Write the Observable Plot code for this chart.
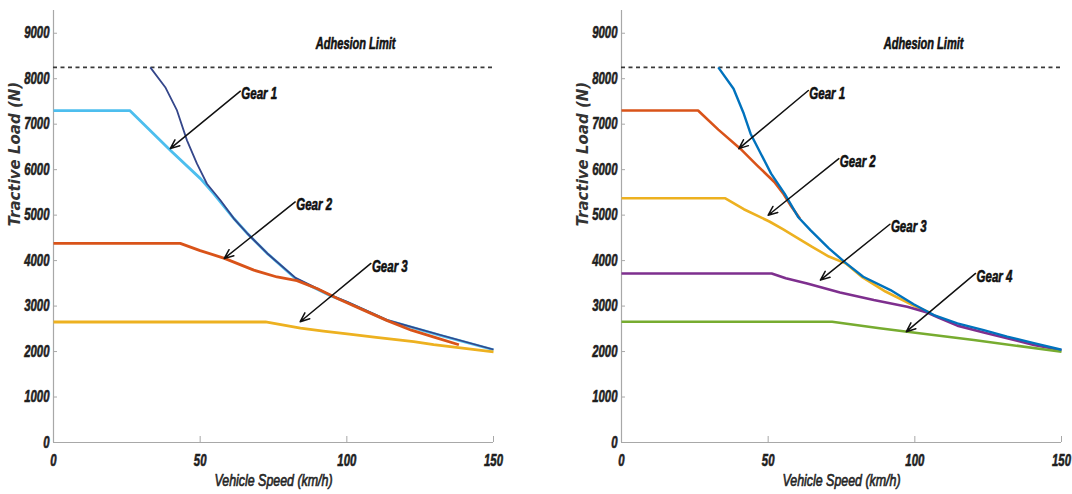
<!DOCTYPE html>
<html>
<head>
<meta charset="utf-8">
<script src="https://cdn.jsdelivr.net/npm/d3@7"></script>
<script src="https://cdn.jsdelivr.net/npm/@observablehq/plot@0.6"></script>
<style>
  body { margin: 0; background: #ffffff; }
  #row { display: flex; width: 1072px; height: 494px; }
  #row svg { display: block; }
</style>
</head>
<body>
<div id="row"></div>
<script>
// Axis ticks
const speedTicks = [0, 50, 100, 150];
const loadTicks = [0, 1000, 2000, 3000, 4000, 5000, 6000, 7000, 8000, 9000];
const adhesionLimit = 8250;

// Left panel: three-speed gearbox, [speed km/h, tractive load N]
const leftEnvelope = [[33, 8250], [38.1, 7814], [42.1, 7302], [45.5, 6644], [48.9, 6132], [52.3, 5690],
  [56.9, 5327], [61.5, 4925], [66.1, 4596], [72.9, 4157], [82.5, 3620], [94.4, 3242], [100.1, 3095],
  [113.8, 2693], [131.9, 2364], [150, 2045]];
const leftGear1 = [[0, 7300], [26, 7300], [39.9, 6424], [50.1, 5803], [54.6, 5474], [61.5, 4925],
  [66.1, 4596], [72.9, 4157], [82.5, 3608], [94.4, 3230], [100.1, 3085], [113.8, 2685], [131.9, 2356],
  [150, 2040]];
const leftGear2 = [[0, 4380], [43.2, 4380], [50, 4220], [58.3, 4050], [68.3, 3790], [76.2, 3640],
  [83, 3560], [90, 3380], [97, 3160], [104, 2960], [113.8, 2680], [122, 2470], [130, 2310], [138.2, 2150]];
const leftGear3 = [[0, 2650], [72.3, 2650], [84.2, 2515], [92, 2450], [100.1, 2390], [110, 2310],
  [122.8, 2220], [129.6, 2150], [150, 1995]];

// Right panel: four-speed gearbox
const rightEnvelope = [[33, 8250], [38.2, 7778], [41.7, 7229], [44, 6790], [47.5, 6351], [51, 5912],
  [55.6, 5473], [60.2, 4960], [64.4, 4669], [70.7, 4270], [76.4, 3950], [82.4, 3644], [91.7, 3352],
  [99.6, 3040], [106.5, 2803], [114.5, 2620], [123.5, 2470], [131.5, 2327], [140.6, 2186], [150, 2040]];
const rightGear1 = [[0, 7300], [26.1, 7300], [33, 6880], [40.5, 6462], [46.3, 6090], [52.1, 5729],
  [55.3, 5460], [57.9, 5190], [60.8, 4925]];
const rightGear2 = [[0, 5370], [35.4, 5370], [41.7, 5130], [50.4, 4860], [55, 4690], [60.2, 4490],
  [65, 4300], [70.7, 4090], [76.4, 3940], [82.2, 3630], [90, 3320], [99.6, 3010], [105, 2860]];
const rightGear3 = [[0, 3718], [51.2, 3718], [56, 3610], [63.3, 3498], [74.5, 3300], [86, 3132],
  [97.4, 2985], [104.2, 2860], [108, 2750], [114.5, 2570], [123.5, 2420], [140.6, 2144], [150, 2030]];
const rightGear4 = [[0, 2656], [71.8, 2656], [88, 2511], [97.4, 2437], [120.1, 2254], [150, 1995]];

// Callouts: label, text/arrow start (x1, y1), arrow tip (x2, y2)
const leftNotes = [
  {name: "Gear 1", x1: 63.7, y1: 7726, x2: 39.8, y2: 6462},
  {name: "Gear 2", x1: 82.4, y1: 5290, x2: 58.2, y2: 4047},
  {name: "Gear 3", x1: 108.2, y1: 3938, x2: 84.1, y2: 2656}
];
const rightNotes = [
  {name: "Gear 1", x1: 63.7, y1: 7741, x2: 40.0, y2: 6462},
  {name: "Gear 2", x1: 74.1, y1: 6242, x2: 50.0, y2: 4998},
  {name: "Gear 3", x1: 91.5, y1: 4800, x2: 67.8, y2: 3571},
  {name: "Gear 4", x1: 120.7, y1: 3718, x2: 97.1, y2: 2437}
];
const adhesionNote = [{name: "Adhesion Limit", x: 103, y: 8775}];

// Arial-metric face, horizontally condensed after rendering
const NARROW = '"Liberation Sans", Arial, sans-serif';
const WIDE = '"DejaVu Sans", Verdana, sans-serif';
const axisGray = "#a8a8a8";
const ink = "#1e1e1e";
const boldFont = {fontFamily: NARROW, fontSize: 16, fontWeight: "bold", fontStyle: "italic"};

function panel({width, marginLeft, marginRight, curves, notes}) {
  return Plot.plot({
    width, height: 494,
    marginTop: 10, marginBottom: 52, marginLeft, marginRight,
    style: {background: "#ffffff", overflow: "visible"},
    x: {domain: [0, 150]},
    y: {domain: [0, 9500]},
    marks: [
      Plot.ruleX([0], {stroke: axisGray, strokeWidth: 1.2}),
      Plot.ruleY([0], {stroke: axisGray, strokeWidth: 1.2}),
      Plot.axisX({ticks: speedTicks, tickFormat: d => String(d), tickSize: -6, tickPadding: 18, label: null,
        stroke: axisGray, fill: ink, ...boldFont}),
      Plot.axisY({ticks: loadTicks, tickFormat: d => String(d), tickSize: -4, tickPadding: 8, label: null,
        stroke: axisGray, fill: ink, ...boldFont}),
      Plot.text(["Vehicle Speed (km/h)"], {frameAnchor: "bottom", dy: 38, lineAnchor: "middle",
        ariaLabel: () => "speed label", fill: "#262626", fontFamily: NARROW, fontSize: 17, fontStyle: "italic"}),
      Plot.text(["Tractive Load (N)"], {frameAnchor: "left", dx: -38, rotate: -90, lineAnchor: "middle",
        fill: "#333333", fontFamily: WIDE, fontSize: 15, fontStyle: "italic", fontWeight: "bold"}),
      Plot.ruleY([adhesionLimit], {stroke: "#3a3a3a", strokeWidth: 1.6, strokeDasharray: "4,3.5"}),
      Plot.text(adhesionNote, {x: "x", y: "y", text: "name", lineAnchor: "middle",
        ariaLabel: () => "adhesion label", fill: "#111", ...boldFont}),
      ...curves.map(c => Plot.line(c.points, {x: d => d[0], y: d => d[1], stroke: c.color,
        strokeWidth: c.width, strokeLinejoin: "round", strokeLinecap: "butt"})),
      Plot.arrow(notes, {x1: "x1", y1: "y1", x2: "x2", y2: "y2", stroke: "#111",
        strokeWidth: 1.5, headLength: 10, headAngle: 45}),
      Plot.text(notes, {x: "x1", y: "y1", text: "name", textAnchor: "start", dx: 1, dy: 3,
        lineAnchor: "middle", ariaLabel: () => "gear label", fill: "#111", ...boldFont})
    ]
  });
}

// Squeeze the Arial-metric labels horizontally about their anchor point,
// with a thin same-colour outline so the narrowed strokes keep their weight
function condense(svg, selector, k, color, weight) {
  svg.querySelectorAll(selector).forEach(t => {
    const x = +t.getAttribute("x") || 0, y = +t.getAttribute("y") || 0;
    const tr = t.getAttribute("transform") || "";
    t.setAttribute("transform", `${tr} translate(${x},${y}) scale(${k},1) translate(${-x},${-y})`);
    t.setAttribute("stroke", color);
    t.setAttribute("stroke-width", weight);
    t.setAttribute("stroke-linejoin", "round");
    t.setAttribute("paint-order", "stroke");
  });
  return svg;
}

function narrowText(svg) {
  condense(svg, 'g[aria-label="x-axis tick label"] text, g[aria-label="y-axis tick label"] text', 0.71, ink, 0.6);
  condense(svg, 'text[aria-label="gear label"]', 0.72, "#111", 0.6);
  condense(svg, 'text[aria-label="adhesion label"]', 0.69, "#111", 0.6);
  condense(svg, 'text[aria-label="speed label"]', 0.73, "#262626", 0.7);
  return svg;
}

const left = narrowText(panel({
  width: 540, marginLeft: 53, marginRight: 47,
  curves: [
    {points: leftGear1, color: "#4DBEEE", width: 2.8},
    {points: leftEnvelope, color: "#34468a", width: 1.8},
    {points: leftGear3, color: "#EDB120", width: 2.8},
    {points: leftGear2, color: "#D95319", width: 2.8}
  ],
  notes: leftNotes
}));

const right = narrowText(panel({
  width: 532, marginLeft: 81, marginRight: 11,
  curves: [
    {points: rightGear1, color: "#D95319", width: 2.6},
    {points: rightGear2, color: "#EDB120", width: 2.6},
    {points: rightGear3, color: "#7E2F8E", width: 2.6},
    {points: rightGear4, color: "#77AC30", width: 2.6},
    {points: rightEnvelope, color: "#0072BD", width: 2.4}
  ],
  notes: rightNotes
}));

document.getElementById("row").append(left, right);
</script>
</body>
</html>
